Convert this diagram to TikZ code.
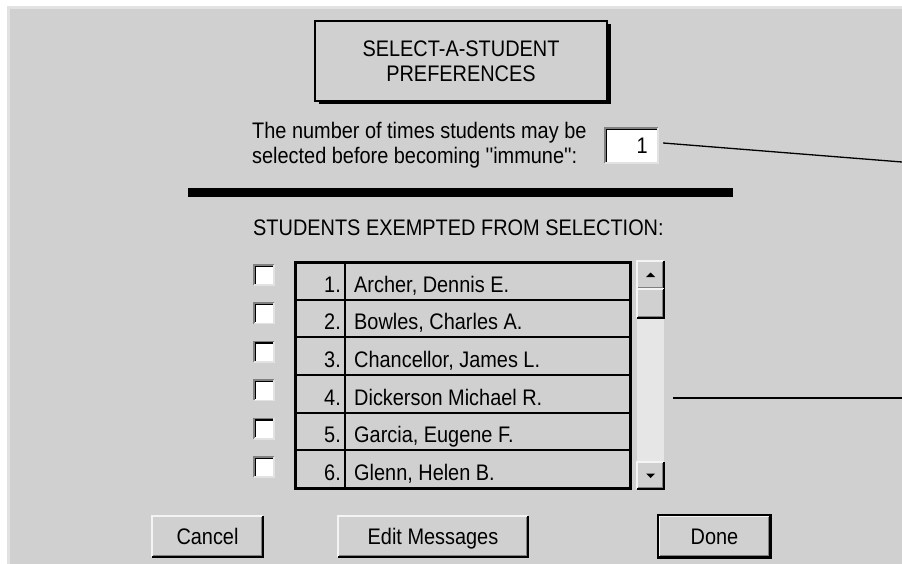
\documentclass[tikz,border=0pt]{standalone}
\usepackage{fontspec}
\setmainfont{Liberation Sans}[FakeStretch=0.885, Ligatures=TeXOff]
\definecolor{panel}{HTML}{D0D0D0}
\definecolor{rim}{HTML}{E2E2E2}
\definecolor{track}{HTML}{E6E6E6}
\definecolor{edgedark}{HTML}{808080}
\definecolor{hilite}{HTML}{F4F4F4}
\tikzset{
  ui/.style={font=\fontsize{22.5}{25}\selectfont, inner sep=0pt},
  titlebox/.style={ui, draw=black, line width=1.6pt, fill=panel, minimum width=292pt, minimum height=80pt, align=center},
  inputbox/.style={fill=white, minimum width=53pt, minimum height=35pt, inner sep=0pt},
  checkbox/.style={fill=white, minimum width=20pt, minimum height=20pt, inner sep=0pt},
  btn/.style={ui, fill=panel, minimum height=41pt, text depth=0pt},
  sbpart/.style={fill=panel, minimum width=27pt, inner sep=0pt},
  leader/.style={draw=black, line width=1.3pt},
  gridline/.style={draw=black, line width=1.8pt},
}
\newcommand\raisededge[1]{%
  \draw[hilite, line width=1.5pt] (#1.south west) -- (#1.north west) -- (#1.north east);
  \draw[black, line width=1.5pt] (#1.north east) -- (#1.south east) -- (#1.south west);
  \draw[edgedark, line width=1.5pt] ([xshift=-1.5pt,yshift=-1.5pt]#1.north east) -- ([xshift=-1.5pt,yshift=1.5pt]#1.south east) -- ([xshift=1.5pt,yshift=1.5pt]#1.south west);
}
\newcommand\sunkenedge[1]{%
  \draw[edgedark, line width=1.5pt] (#1.south west) -- (#1.north west) -- (#1.north east);
  \draw[black, line width=1.5pt] ([xshift=1.5pt,yshift=1.5pt]#1.south west) -- ([xshift=1.5pt,yshift=-1.5pt]#1.north west) -- ([xshift=-1.5pt,yshift=-1.5pt]#1.north east);
  \draw[rim, line width=1.5pt] (#1.north east) -- (#1.south east) -- (#1.south west);
}
\begin{document}
\begin{tikzpicture}[x=1pt,y=-1pt]
\useasboundingbox (0,0) rectangle (902,564);
% window background
\fill[white] (0,0) rectangle (902,564);
\fill[rim] (7,6) rectangle (902,564);
\fill[panel] (10,9) rectangle (902,564);

% title
\fill[black] (319,24) rectangle (611,104);
\node[titlebox] (title) at (461,61) {SELECT-A-STUDENT\\PREFERENCES};

% question
\node[ui, anchor=west, align=left] (question) at (252,145) {The number of times students may be\\selected before becoming ''immune'':};
\node[inputbox] (count) at (631.5,145.5) {};
\sunkenedge{count}
\node[ui, anchor=east] (countval) at (648,146) {1};
\coordinate (leadA) at (902,162);
\draw[leader] ([xshift=5pt,yshift=2.5pt]count.east) -- (leadA);

% thick rule
\fill[black] (188,188) rectangle (733,197);

% heading
\node[ui, anchor=west] (heading) at (253,228) {STUDENTS EXEMPTED FROM SELECTION:};

% table
\fill[panel] (295,262) rectangle (630,488);
\foreach \k in {1,...,5} {
  \draw[gridline] (295,{262+\k*37.67}) -- (630,{262+\k*37.67});
}
\draw[gridline] (345,262) -- (345,488);
\draw[black, line width=3pt] (295,262) rectangle (630,488);
\foreach \i/\nm in {1/{Archer, Dennis E.},2/{Bowles, Charles A.},3/{Chancellor, James L.},4/{Dickerson Michael R.},5/{Garcia, Eugene F.},6/{Glenn, Helen B.}} {
  \node[ui, anchor=base east] (num\i) at (341,{262+(\i-1)*37.67+30}) {\i.};
  \node[ui, anchor=base west] (name\i) at (354,{262+(\i-1)*37.67+30}) {\nm};
  \node[checkbox] (cb\i) at (264,{275+(\i-1)*38.4}) {};
  \sunkenedge{cb\i}
}

% scrollbar
\node[sbpart, fill=track, minimum height=228pt] (scroll) at (650.5,375) {};
\node[sbpart, minimum height=28pt] (up) at (650.5,275) {};
\raisededge{up}
\node[sbpart, minimum height=29pt] (thumb) at (650.5,303.5) {};
\raisededge{thumb}
\node[sbpart, minimum height=27pt] (down) at (650.5,475.5) {};
\raisededge{down}
\fill[black] ([xshift=-4.5pt,yshift=-2pt]up.center) -- ([xshift=4.5pt,yshift=-2pt]up.center) -- ([yshift=2.5pt]up.center) -- cycle;
\fill[black] ([xshift=-4.5pt,yshift=2pt]down.center) -- ([xshift=4.5pt,yshift=2pt]down.center) -- ([yshift=-2.5pt]down.center) -- cycle;
\coordinate (leadBa) at (673,398);
\coordinate (leadBb) at (902,398);
\draw[leader] (leadBa) -- (leadBb);

% buttons
\node[btn, minimum width=111pt] (cancel) at (207.5,536.5) {Cancel};
\raisededge{cancel}
\node[btn, minimum width=190pt] (edit) at (433,536.5) {Edit Messages};
\raisededge{edit}
\node[btn, minimum width=111pt] (done) at (714.5,536.5) {Done};
\raisededge{done}
\draw[black, line width=2pt] ([xshift=-1pt,yshift=1pt]done.north west) rectangle ([xshift=1pt,yshift=-1pt]done.south east);
\end{tikzpicture}
\end{document}
